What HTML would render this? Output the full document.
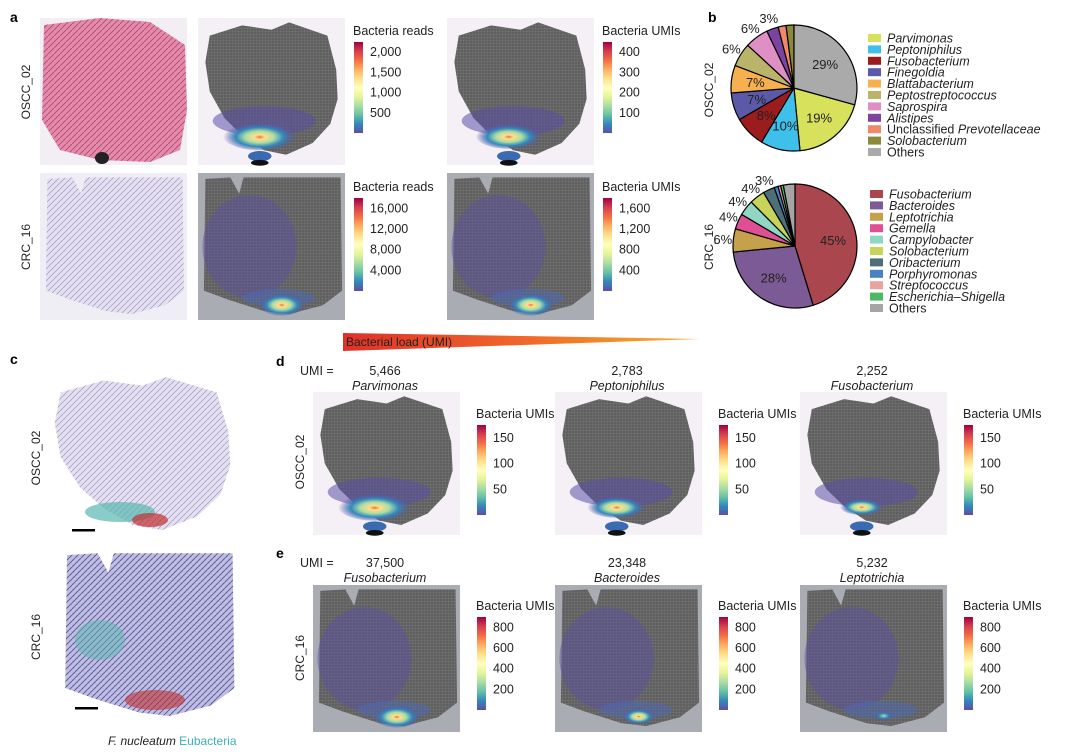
<!DOCTYPE html>
<html><head><meta charset="utf-8">
<style>
body{margin:0;background:#fff;font-family:"Liberation Sans",sans-serif;}
svg text{font-family:"Liberation Sans",sans-serif;}
</style></head><body>
<svg id="fig" width="1072" height="750" viewBox="0 0 1072 750" xmlns="http://www.w3.org/2000/svg">
<defs>
<linearGradient id="spectral" x1="0" y1="1" x2="0" y2="0">
<stop offset="0" stop-color="#5e4fa2"/><stop offset="0.1" stop-color="#3288bd"/><stop offset="0.2" stop-color="#66c2a5"/><stop offset="0.3" stop-color="#abdda4"/><stop offset="0.4" stop-color="#e6f598"/><stop offset="0.5" stop-color="#ffffbf"/><stop offset="0.6" stop-color="#fee08b"/><stop offset="0.7" stop-color="#fdae61"/><stop offset="0.8" stop-color="#f46d43"/><stop offset="0.9" stop-color="#d53e4f"/><stop offset="1" stop-color="#9e0142"/>
</linearGradient>
<linearGradient id="loadgrad" x1="0" y1="0" x2="1" y2="0"><stop offset="0" stop-color="#e0302a"/><stop offset="0.5" stop-color="#f0662a"/><stop offset="1" stop-color="#f7b02a"/></linearGradient>
<radialGradient id="hot" cx="0.5" cy="0.55" r="0.5"><stop offset="0" stop-color="#f46d43"/><stop offset="0.15" stop-color="#fee08b"/><stop offset="0.4" stop-color="#abdda4"/><stop offset="0.65" stop-color="#3288bd"/><stop offset="1" stop-color="#5e4fa2" stop-opacity="0"/></radialGradient>
<radialGradient id="hotweak" cx="0.5" cy="0.5" r="0.5"><stop offset="0" stop-color="#abdda4"/><stop offset="0.5" stop-color="#3288bd"/><stop offset="1" stop-color="#5e4fa2" stop-opacity="0"/></radialGradient>
<pattern id="dots" width="3" height="3" patternUnits="userSpaceOnUse"><rect width="3" height="3" fill="#5e5e5e"/><circle cx="1.5" cy="1.5" r="1" fill="#747474"/></pattern>
<pattern id="hematox" width="6" height="6" patternUnits="userSpaceOnUse"><rect width="6" height="6" fill="#e4e0ee"/><path d="M0 3 L3 0 M3 6 L6 3" stroke="#a89cd0" stroke-width="0.8"/></pattern>
<pattern id="he" width="6" height="6" patternUnits="userSpaceOnUse"><rect width="6" height="6" fill="#e58aa8"/><path d="M0 6 L6 0" stroke="#b04a7a" stroke-width="0.9"/></pattern>
<pattern id="cblue" width="6" height="6" patternUnits="userSpaceOnUse"><rect width="6" height="6" fill="#c0bede"/><path d="M0 3 L3 0 M3 6 L6 3" stroke="#5a5aa8" stroke-width="1"/></pattern>
</defs>
<g id="root"></g>
</svg>
<script>
// ---------- data ----------
const oscCats = ["Parvimonas","Peptoniphilus","Fusobacterium","Finegoldia","Blattabacterium","Peptostreptococcus","Saprospira","Alistipes","Unclassified Prevotellaceae","Solobacterium","Others"];
const oscVals = [19,10,8,7,7,6,6,3,2,2,29];
const oscCols = ["#d8e15c","#3fc0ea","#9b1c1c","#5c5aa8","#f6b04f","#b9b46a","#de90c4","#7c44a0","#ee8a6a","#8a8a3a","#aaaaaa"];
const crcCats = ["Fusobacterium","Bacteroides","Leptotrichia","Gemella","Campylobacter","Solobacterium","Oribacterium","Porphyromonas","Streptococcus","Escherichia–Shigella","Others"];
const crcVals = [45,28,6,4,4,4,3,1,0.7,0.7,3];
const crcCols = ["#a9464e","#7b5a96","#c4a14a","#df4f93","#8fd6c3","#c8d35a","#4f6f78","#4a80c4","#e8a39c","#4fb865","#a5a5a5"];
const readsTicksO = ["2,000","1,500","1,000","500"];
const umiTicksO = ["400","300","200","100"];
const readsTicksC = ["16,000","12,000","8,000","4,000"];
const umiTicksC = ["1,600","1,200","800","400"];
const dTicks = ["150","100","50"];
const eTicks = ["800","600","400","200"];
const dUMI = ["5,466","2,783","2,252"];
const dNames = ["Parvimonas","Peptoniphilus","Fusobacterium"];
const eUMI = ["37,500","23,348","5,232"];
const eNames = ["Fusobacterium","Bacteroides","Leptotrichia"];

const NS="http://www.w3.org/2000/svg";
const root=document.getElementById('root');
function el(tag,attrs,parent,txt){const e=document.createElementNS(NS,tag);for(const k in attrs)e.setAttribute(k,attrs[k]);if(txt!==undefined)e.textContent=txt;(parent||root).appendChild(e);return e;}
function txt(x,y,s,size,opts,name){const t=el('text',Object.assign({x:x,y:y,'font-size':size,fill:'#222'},opts||{}),root,s);return t;}

[["a",10,22],["b",708,22],["c",10,364],["d",276,366],["e",276,558]].forEach(p=>{txt(p[1],p[2],p[0],14,{'font-weight':'bold',fill:'#000'},'panel-label-'+p[0]);});
function vlabel(x,y,s,name){txt(x,y,s,12,{transform:`rotate(-90 ${x} ${y})`,'text-anchor':'middle'},name);}
vlabel(30,92,"OSCC_02","row-label-oscc-a");vlabel(30,247,"CRC_16","row-label-crc-a");
vlabel(713,90,"OSCC_02","row-label-oscc-b");vlabel(713,247,"CRC_16","row-label-crc-b");
vlabel(40,458,"OSCC_02","row-label-oscc-c");vlabel(40,637,"CRC_16","row-label-crc-c");
vlabel(304,462,"OSCC_02","row-label-oscc-d");vlabel(304,658,"CRC_16","row-label-crc-e");

const oscShape=[[.08,.12],[.3,.05],[.5,.08],[.62,.03],[.88,.12],[.94,.35],[.95,.55],[.9,.72],[.78,.85],[.6,.93],[.45,.9],[.3,.8],[.18,.68],[.08,.5],[.05,.3]];
const crcShape=[[.05,.04],[.22,.03],[.28,.14],[.31,.03],[.97,.03],[.98,.8],[.85,.9],[.62,.96],[.45,.94],[.2,.86],[.04,.8]];
function pts(shape,x,y,w,h){return shape.map(p=>(x+p[0]*w)+','+(y+p[1]*h)).join(' ');}

function spatialMap(x,y,w,h,kind,strength,name){
  const g=el('g',{});
  el('rect',{x:x,y:y,width:w,height:h,fill:kind==='osc'?'#f5f0f6':'#a9adb3'},g);
  el('polygon',{points:pts(kind==='osc'?oscShape:crcShape,x,y,w,h),fill:'url(#dots)'},g);
  if(kind==='osc'){
    el('ellipse',{cx:x+w*.45,cy:y+h*.7,rx:w*.35,ry:h*.1,fill:'#5a4fa8',opacity:.55},g);
    el('ellipse',{cx:x+w*.42,cy:y+h*.8,rx:w*.25*strength,ry:h*.1*strength,fill:'url(#hot)'},g);
    el('ellipse',{cx:x+w*.42,cy:y+h*.94,rx:w*.08,ry:h*.035,fill:'#3a6ab0'},g);
    el('ellipse',{cx:x+w*.42,cy:y+h*.985,rx:w*.06,ry:h*.02,fill:'#111'},g);
  } else {
    el('ellipse',{cx:x+w*.35,cy:y+h*.5,rx:w*.32,ry:h*.35,fill:'#5a4fa8',opacity:.45},g);
    el('ellipse',{cx:x+w*.55,cy:y+h*.85,rx:w*.25,ry:h*.06,fill:'#4a6ab8',opacity:.5},g);
    el('ellipse',{cx:x+w*.57,cy:y+h*.89,rx:w*.16*strength,ry:h*.08*strength,fill:strength>0.6?'url(#hot)':'url(#hotweak)'},g);
  }
}
function colorbar(x,y,h,title,ticks,name){
  const g=el('g',{});
  el('text',{x:x-1,y:y-7,'font-size':12.5,fill:'#222'},g,title);
  el('rect',{x:x,y:y,width:9,height:h,fill:'url(#spectral)'},g);
  const n=ticks.length;
  ticks.forEach((t,i)=>{const ty=y+h*(i+0.5)/(n+0.5);el('text',{x:x+16,y:ty+4,'font-size':12.5,fill:'#222'},g,t);});
}

(function(){
 let g=el('g',{});
 el('rect',{x:40,y:18,width:147,height:147,fill:'#f3eef4'},g);
 el('polygon',{points:'44,25 100,18 150,22 185,45 187,110 180,150 150,162 100,160 60,150 42,120',fill:'url(#he)'},g);
 el('ellipse',{cx:102,cy:158,rx:7,ry:6,fill:'#222'},g);
 g=el('g',{});
 el('rect',{x:40,y:173,width:147,height:147,fill:'#f0eef5'},g);
 el('polygon',{points:pts(crcShape,40,173,147,147),fill:'url(#hematox)'},g);
})();
spatialMap(198,18,147,147,'osc',1,'map-oscc-reads');
spatialMap(447,18,147,147,'osc',0.9,'map-oscc-umis');
spatialMap(198,173,147,147,'crc',1,'map-crc-reads');
spatialMap(447,173,147,147,'crc',1,'map-crc-umis');
colorbar(354,42,91,"Bacteria reads",readsTicksO,'colorbar-oscc-reads');
colorbar(603,42,91,"Bacteria UMIs",umiTicksO,'colorbar-oscc-umis');
colorbar(354,198,93,"Bacteria reads",readsTicksC,'colorbar-crc-reads');
colorbar(603,198,93,"Bacteria UMIs",umiTicksC,'colorbar-crc-umis');

// pies: startFrac = fraction of circle offset from 12 o'clock where first slice begins
function pie(cx,cy,r,vals,cols,name,startIdxLast){
  const g=el('g',{});
  const tot=vals.reduce((a,b)=>a+b,0);
  let a0=-Math.PI/2 + (startIdxLast?2*Math.PI*vals[vals.length-1]/tot:0);
  vals.forEach((v,i)=>{
    const a1=a0+2*Math.PI*v/tot;
    const large=(a1-a0)>Math.PI?1:0;
    const p=el('path',{d:`M${cx},${cy} L${cx+r*Math.cos(a0)},${cy+r*Math.sin(a0)} A${r},${r} 0 ${large} 1 ${cx+r*Math.cos(a1)},${cy+r*Math.sin(a1)} Z`,fill:cols[i],stroke:'#000','stroke-width':1.2},g);
    
    const am=(a0+a1)/2;
    if(v>=2.5 && !(i===vals.length-1 && !startIdxLast)){
      const rr=v>=6.5?r*0.62:r*1.17;
      el('text',{x:cx+rr*Math.cos(am),y:cy+rr*Math.sin(am)+4.5,'font-size':13,'text-anchor':'middle',fill:'#222'},g,Math.round(v)+'%');
    }
    a0=a1;
  });
}
pie(794,88,63,oscVals,oscCols,'pie-oscc',true);
pie(795,246,62,crcVals,crcCols,'pie-crc',false);
function legend(x,y,cats,cols,name){
  const g=el('g',{});
  cats.forEach((c,i)=>{
    const yy=y+i*11.4;
    el('rect',{x:x,y:yy-4,width:13,height:8,fill:cols[i]},g);
    const t=el('text',{x:x+19,y:yy+4.5,'font-size':12.5,fill:'#222'},g);
    if(c==='Others'){t.textContent=c;}
    else if(c.startsWith('Unclassified')){t.textContent='Unclassified ';el('tspan',{'font-style':'italic'},t,'Prevotellaceae');}
    else {t.setAttribute('font-style','italic');t.textContent=c;}
  });
}
legend(868,38,oscCats,oscCols,'legend-oscc');
legend(870,194,crcCats,crcCols,'legend-crc');

(function(){const g=el('g',{});
 el('polygon',{points:'343,333 700,339 343,351',fill:'url(#loadgrad)'},g);
 el('text',{x:346,y:346,'font-size':12,fill:'#222'},g,'Bacterial load (UMI)');})();

(function(){
 let g=el('g',{});
 el('polygon',{points:pts(oscShape,45,372,195,170),fill:'url(#hematox)'},g);
 el('ellipse',{cx:120,cy:512,rx:35,ry:10,fill:'#58b8b0',opacity:.7},g);
 el('ellipse',{cx:150,cy:520,rx:18,ry:7,fill:'#c03030',opacity:.7},g);
 el('rect',{x:72,y:529,width:23,height:2.5,fill:'#000'},g);
 g=el('g',{});
 el('polygon',{points:pts(crcShape,58,548,180,175),fill:'url(#cblue)'},g);
 el('ellipse',{cx:155,cy:700,rx:30,ry:10,fill:'#c03030',opacity:.6},g);
 el('ellipse',{cx:100,cy:640,rx:25,ry:20,fill:'#58b8b0',opacity:.5},g);
 el('rect',{x:75,y:707,width:23,height:2.5,fill:'#000'},g);
 const t=el('text',{x:108,y:745,'font-size':12,fill:'#222'});
 el('tspan',{'font-style':'italic'},t,'F. nucleatum ');el('tspan',{fill:'#3bb0b8'},t,'Eubacteria');
})();

const colX=[313,555,800];
txt(300,375,"UMI =",12.5,{},'umi-label-d');
txt(300,567,"UMI =",12.5,{},'umi-label-e');
const dStr=[1,0.8,0.6], eStr=[1,0.7,0.4];
colX.forEach((x,i)=>{
  txt(x+72,375,dUMI[i],12.5,{'text-anchor':'middle'},'umi-value-d');
  txt(x+72,390,dNames[i],12.5,{'text-anchor':'middle','font-style':'italic'},'taxon-name-d');
  spatialMap(x,392,147,143,'osc',dStr[i],'map-d-'+i);
  colorbar(x+164,425,90,"Bacteria UMIs",dTicks,'colorbar-d-'+i);
  txt(x+72,567,eUMI[i],12.5,{'text-anchor':'middle'},'umi-value-e');
  txt(x+72,582,eNames[i],12.5,{'text-anchor':'middle','font-style':'italic'},'taxon-name-e');
  spatialMap(x,585,147,147,'crc',eStr[i],'map-e-'+i);
  colorbar(x+164,617,93,"Bacteria UMIs",eTicks,'colorbar-e-'+i);
});
</script>
</body></html>
